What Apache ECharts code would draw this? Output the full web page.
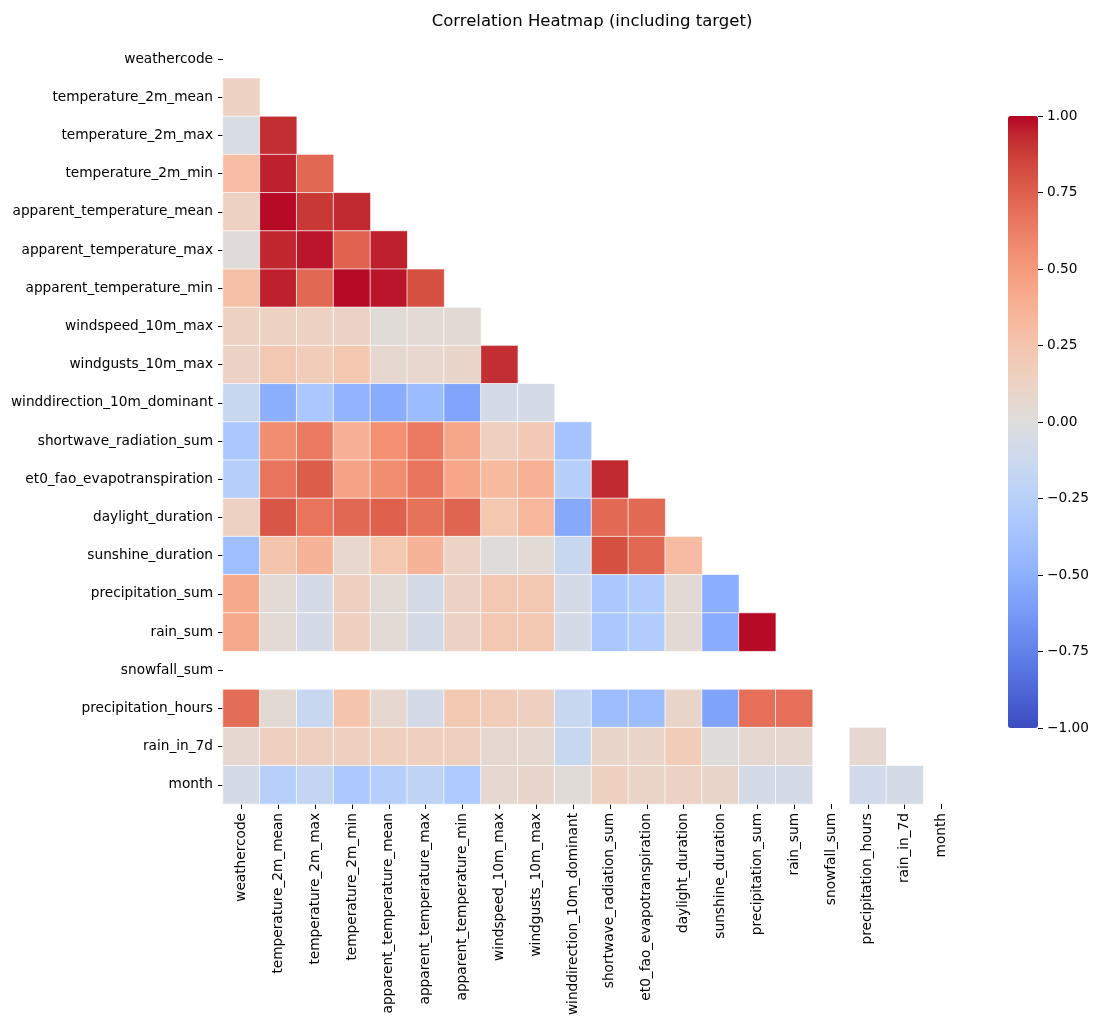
<!DOCTYPE html>
<html>
<head>
<meta charset="utf-8">
<title>Correlation Heatmap</title>
<script src="https://cdn.jsdelivr.net/npm/echarts@6/dist/echarts.min.js"></script>
<style>
  html, body { margin: 0; padding: 0; background: #fff; }
  #chart { width: 1100px; height: 1028px; }
</style>
</head>
<body>
<div id="chart"></div>
<script>
// variable names (rows top to bottom, columns left to right)
const variables = [
  'weathercode', 'temperature_2m_mean', 'temperature_2m_max', 'temperature_2m_min',
  'apparent_temperature_mean', 'apparent_temperature_max', 'apparent_temperature_min',
  'windspeed_10m_max', 'windgusts_10m_max', 'winddirection_10m_dominant',
  'shortwave_radiation_sum', 'et0_fao_evapotranspiration', 'daylight_duration',
  'sunshine_duration', 'precipitation_sum', 'rain_sum', 'snowfall_sum',
  'precipitation_hours', 'rain_in_7d', 'month'
];

// lower triangle of the correlation matrix, row i holds columns 0..i-1
// null = NaN (snowfall_sum is constant)
const lowerRows = [
  [],
  [0.14],
  [-0.04, 0.92],
  [0.30, 0.95, 0.72],
  [0.14, 0.99, 0.89, 0.93],
  [0.02, 0.94, 0.97, 0.74, 0.95],
  [0.28, 0.95, 0.72, 0.99, 0.97, 0.81],
  [0.14, 0.14, 0.14, 0.13, 0.03, 0.04, 0.05],
  [0.13, 0.22, 0.19, 0.23, 0.07, 0.08, 0.10, 0.92],
  [-0.15, -0.50, -0.33, -0.47, -0.52, -0.42, -0.56, -0.07, -0.07],
  [-0.33, 0.56, 0.64, 0.38, 0.55, 0.64, 0.43, 0.15, 0.21, -0.37],
  [-0.26, 0.67, 0.76, 0.45, 0.56, 0.67, 0.44, 0.32, 0.37, -0.27, 0.93],
  [0.14, 0.79, 0.67, 0.72, 0.75, 0.68, 0.73, 0.23, 0.33, -0.54, 0.71, 0.71],
  [-0.40, 0.25, 0.36, 0.08, 0.23, 0.36, 0.12, 0.01, 0.04, -0.15, 0.81, 0.72, 0.31],
  [0.42, 0.04, -0.06, 0.15, 0.04, -0.06, 0.13, 0.22, 0.22, -0.06, -0.33, -0.29, 0.05, -0.51],
  [0.42, 0.04, -0.06, 0.15, 0.04, -0.06, 0.13, 0.22, 0.22, -0.06, -0.33, -0.29, 0.05, -0.52, 0.99],
  [null, null, null, null, null, null, null, null, null, null, null, null, null, null, null, null],
  [0.70, 0.05, -0.15, 0.25, 0.07, -0.06, 0.22, 0.19, 0.16, -0.15, -0.41, -0.41, 0.10, -0.57, 0.69, 0.69, null],
  [0.07, 0.16, 0.15, 0.15, 0.16, 0.16, 0.16, 0.06, 0.06, -0.15, 0.10, 0.10, 0.19, 0.01, 0.06, 0.06, null, 0.07],
  [-0.06, -0.25, -0.18, -0.32, -0.27, -0.21, -0.31, 0.07, 0.09, 0.03, 0.15, 0.11, 0.13, 0.10, -0.06, -0.06, null, -0.09, -0.07]
];

// colour bar scale
const colorMin = -1;
const colorMax = 1;
const colorStep = 0.25;

// matplotlib coolwarm, sampled at 33 points
const coolwarm = [
  '#3b4cc0', '#445acc', '#4d68d7', '#5775e1', '#6282ea', '#6c8ef1', '#779af7', '#82a5fb',
  '#8db0fe', '#98b9ff', '#a3c2ff', '#aec9fd', '#b8d0f9', '#c2d5f4', '#ccd9ee', '#d5dbe6',
  '#dddddd', '#e5d8d1', '#ecd3c5', '#f1ccb9', '#f5c4ad', '#f7bba0', '#f7b194', '#f7a687',
  '#f49a7b', '#f18d6f', '#ec7f63', '#e57058', '#de604d', '#d55042', '#cb3e38', '#c0282f',
  '#b40426'
];

const cells = [];
lowerRows.forEach((row, i) => {
  row.forEach((v, j) => {
    if (v !== null) cells.push([j, i, v]);
  });
});

const fontFamily = 'DejaVu Sans';
const tickFont = 13.7;
const chart = echarts.init(document.getElementById('chart'));

chart.setOption({
  backgroundColor: '#fff',
  animation: false,
  textStyle: { fontFamily: fontFamily, color: '#000' },
  title: {
    text: 'Correlation Heatmap (including target)',
    left: 587,
    top: 8,
    textAlign: 'center',
    textStyle: { fontFamily: fontFamily, fontSize: 16.5, fontWeight: 'normal', color: '#000' }
  },
  grid: [
    { left: 223, top: 40, width: 737, height: 764 },
    { left: 1008, top: 116, width: 30, height: 612 }
  ],
  xAxis: [
    {
      type: 'category',
      data: variables,
      gridIndex: 0,
      axisLine: { show: false },
      axisTick: { show: true, length: 5, alignWithLabel: true, lineStyle: { color: '#000' } },
      axisLabel: { rotate: 90, interval: 0, margin: 9, fontSize: tickFont, color: '#000', fontFamily: fontFamily },
      splitLine: { show: false }
    },
    {
      type: 'category',
      gridIndex: 1,
      data: [],
      show: false,
      axisLine: { show: false },
      axisTick: { show: false },
      axisLabel: { show: false }
    }
  ],
  yAxis: [
    {
      type: 'category',
      data: variables,
      inverse: true,
      gridIndex: 0,
      axisLine: { show: false },
      axisTick: { show: true, length: 5, alignWithLabel: true, lineStyle: { color: '#000' } },
      axisLabel: { interval: 0, margin: 10, fontSize: tickFont, color: '#000', fontFamily: fontFamily },
      splitLine: { show: false }
    },
    {
      type: 'value',
      gridIndex: 1,
      position: 'right',
      min: colorMin,
      max: colorMax,
      interval: colorStep,
      axisLine: { show: false },
      axisTick: { show: true, length: 5, lineStyle: { color: '#000' } },
      axisLabel: {
        margin: 9,
        fontSize: tickFont,
        color: '#000',
        fontFamily: fontFamily,
        formatter: v => (v < 0 ? '\u2212' : '') + Math.abs(v).toFixed(2)
      },
      splitLine: { show: false }
    }
  ],
  visualMap: {
    type: 'continuous',
    seriesIndex: 0,
    min: colorMin,
    max: colorMax,
    calculable: false,
    hoverLink: false,
    orient: 'vertical',
    left: 1008,
    top: 116,
    padding: 0,
    itemWidth: 30,
    itemHeight: 612,
    text: null,
    showLabel: false,
    indicatorSize: 0,
    inRange: { color: coolwarm }
  },
  series: [
    {
      type: 'heatmap',
      xAxisIndex: 0,
      yAxisIndex: 0,
      data: cells,
      itemStyle: { borderColor: '#fff', borderWidth: 0.7 },
      emphasis: { disabled: true }
    },
    {
      type: 'scatter',
      xAxisIndex: 1,
      yAxisIndex: 1,
      data: [],
      silent: true
    }
  ]
});
</script>
</body>
</html>
